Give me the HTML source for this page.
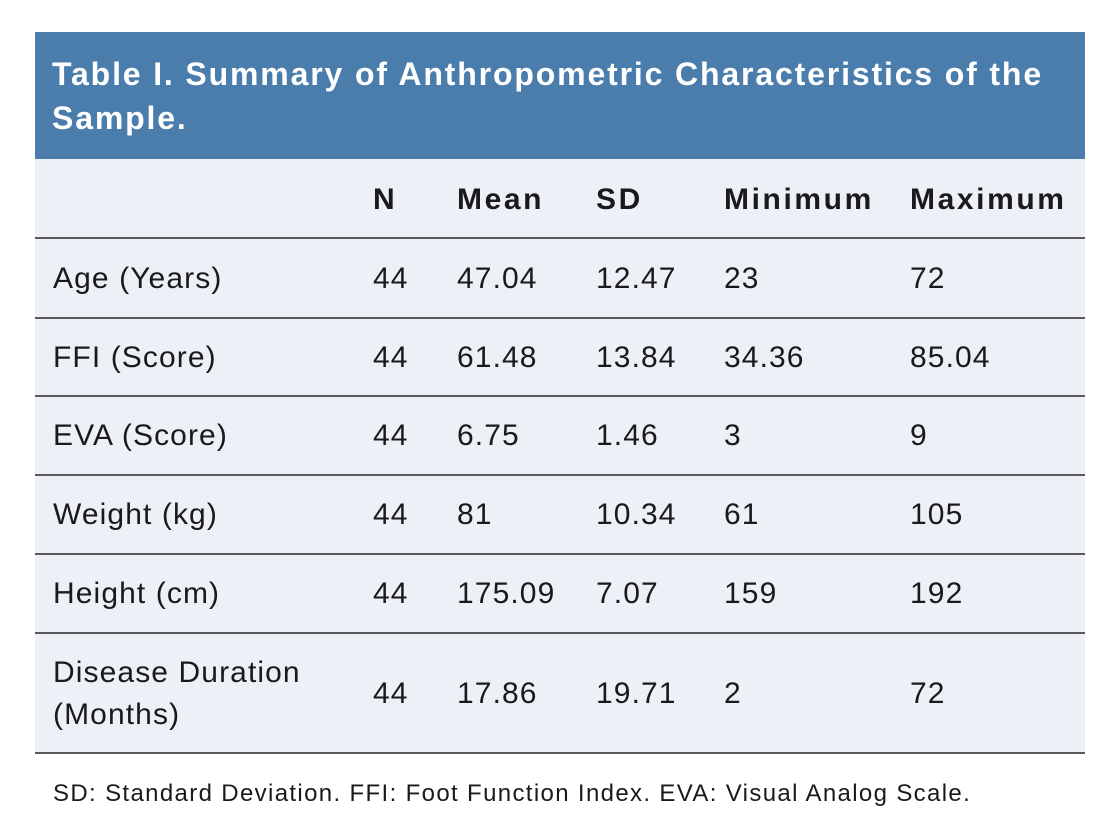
<!DOCTYPE html>
<html><head><meta charset="utf-8"><style>
body{margin:0;background:#fff;width:1120px;height:839px;position:relative;font-family:"Liberation Sans",sans-serif;overflow:hidden}
.hd{position:absolute;left:35px;top:32px;width:1050px;height:127px;background:#4a7dab;color:#fff;font-weight:bold;font-size:32px;line-height:44px;box-sizing:border-box;padding:20px 0 0 17px;letter-spacing:1.85px;white-space:nowrap}
.tb{position:absolute;left:35px;top:159px;width:1050px;height:595px;background:#edf0f7}
.ln{position:absolute;left:35px;width:1050px;height:2px;background:#5a5a5a}
.t{position:absolute;font-size:30px;color:#1a1a1a;line-height:36px;transform:translateY(-50%);letter-spacing:1.1px;white-space:nowrap}
.b{font-weight:bold;letter-spacing:2.6px}
.ft{position:absolute;left:53px;top:780px;font-size:24px;color:#1a1a1a;letter-spacing:1.35px;white-space:nowrap}
</style></head><body>
<div class="hd">Table I. Summary of Anthropometric Characteristics of the<br>Sample.</div>
<div class="tb"></div>
<div class="ln" style="top:237px"></div>
<div class="ln" style="top:317px"></div>
<div class="ln" style="top:395px"></div>
<div class="ln" style="top:474px"></div>
<div class="ln" style="top:553px"></div>
<div class="ln" style="top:632px"></div>
<div class="ln" style="top:752px"></div>

<div class="t b" style="left:373px;top:200px">N</div>
<div class="t b" style="left:457px;top:200px">Mean</div>
<div class="t b" style="left:596px;top:200px">SD</div>
<div class="t b" style="left:724px;top:200px">Minimum</div>
<div class="t b" style="left:910px;top:200px">Maximum</div>

<div class="t" style="left:53px;top:279px">Age (Years)</div><div class="t" style="left:373px;top:279px">44</div><div class="t" style="left:457px;top:279px">47.04</div><div class="t" style="left:596px;top:279px">12.47</div><div class="t" style="left:724px;top:279px">23</div><div class="t" style="left:910px;top:279px">72</div>
<div class="t" style="left:53px;top:358px">FFI (Score)</div><div class="t" style="left:373px;top:358px">44</div><div class="t" style="left:457px;top:358px">61.48</div><div class="t" style="left:596px;top:358px">13.84</div><div class="t" style="left:724px;top:358px">34.36</div><div class="t" style="left:910px;top:358px">85.04</div>
<div class="t" style="left:53px;top:436px">EVA (Score)</div><div class="t" style="left:373px;top:436px">44</div><div class="t" style="left:457px;top:436px">6.75</div><div class="t" style="left:596px;top:436px">1.46</div><div class="t" style="left:724px;top:436px">3</div><div class="t" style="left:910px;top:436px">9</div>
<div class="t" style="left:53px;top:515px">Weight (kg)</div><div class="t" style="left:373px;top:515px">44</div><div class="t" style="left:457px;top:515px">81</div><div class="t" style="left:596px;top:515px">10.34</div><div class="t" style="left:724px;top:515px">61</div><div class="t" style="left:910px;top:515px">105</div>
<div class="t" style="left:53px;top:594px">Height (cm)</div><div class="t" style="left:373px;top:594px">44</div><div class="t" style="left:457px;top:594px">175.09</div><div class="t" style="left:596px;top:594px">7.07</div><div class="t" style="left:724px;top:594px">159</div><div class="t" style="left:910px;top:594px">192</div>
<div class="t" style="left:53px;top:694px;line-height:42px">Disease Duration<br>(Months)</div><div class="t" style="left:373px;top:694px">44</div><div class="t" style="left:457px;top:694px">17.86</div><div class="t" style="left:596px;top:694px">19.71</div><div class="t" style="left:724px;top:694px">2</div><div class="t" style="left:910px;top:694px">72</div>

<div class="ft">SD: Standard Deviation. FFI: Foot Function Index. EVA: Visual Analog Scale.</div>
</body></html>
